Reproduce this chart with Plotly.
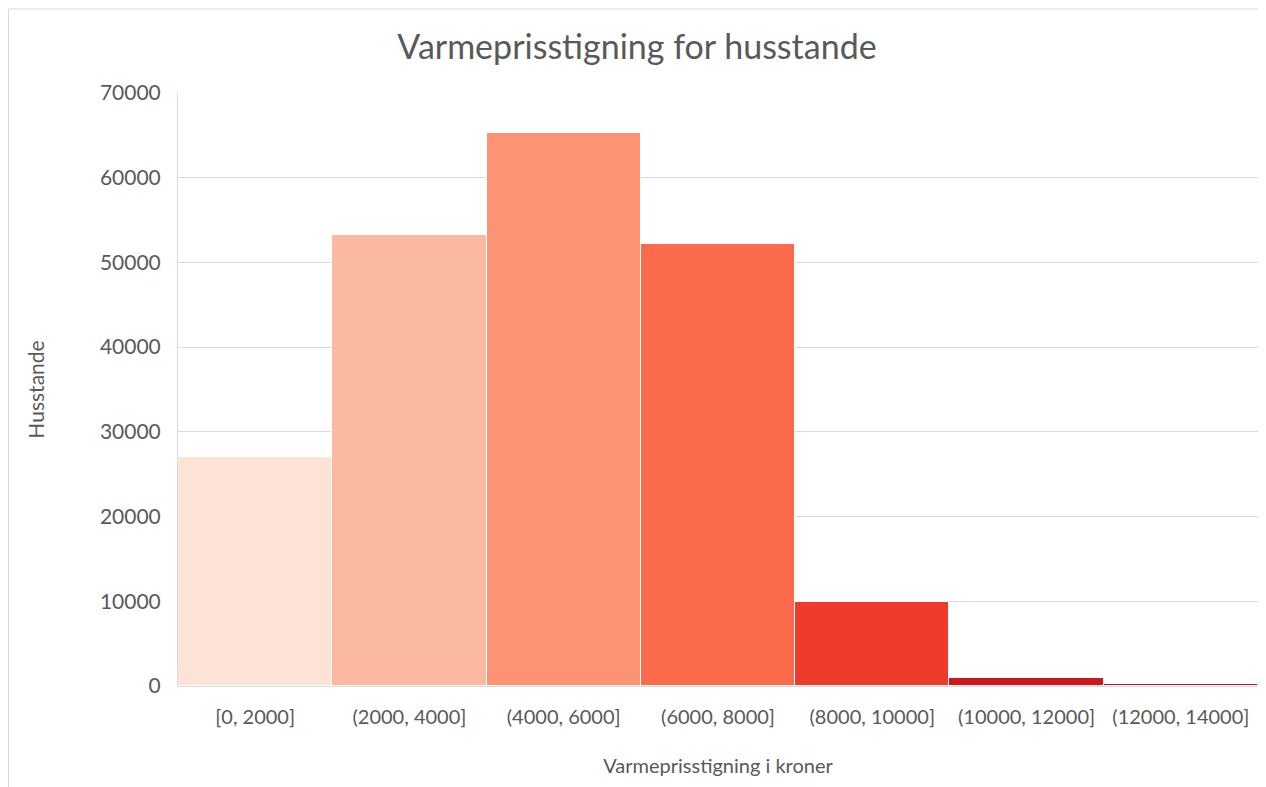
import plotly.graph_objects as go

categories = ["[0, 2000]", "(2000, 4000]", "(4000, 6000]", "(6000, 8000]",
              "(8000, 10000]", "(10000, 12000]", "(12000, 14000]"]
households = [27000, 53200, 65300, 52200, 9900, 1000, 270]
bar_colors = ["#FDE2D6", "#FBBAA0", "#FC9372", "#FB6A4A", "#EF3B2C", "#CB181D", "#B0131A"]

font_family = "Lato, 'Open Sans', sans-serif"
grey = "#595959"

W, H = 1258, 779  # page body has 8px margin
L, T, B, R = 170, 85, 101, 8

fig = go.Figure(go.Bar(
    x=categories, y=households,
    marker=dict(color=bar_colors, line=dict(color="white", width=1)),
    width=1.0,
))

fig.update_layout(
    width=W, height=H,
    paper_bgcolor="white", plot_bgcolor="white",
    margin=dict(l=L, r=R, t=T, b=B),
    bargap=0,
    showlegend=False,
    title=dict(text="Varmeprisstigning for husstande", x=0.5, xanchor="center",
               y=1 - 39 / H, yanchor="middle",
               font=dict(family=font_family, size=34, color=grey)),
    font=dict(family=font_family, color=grey, size=20),
)
fig.update_yaxes(
    range=[0, 70000], dtick=10000, tickformat="d",
    showgrid=True, gridcolor="#D9D9D9", gridwidth=1,
    showline=True, linecolor="#D9D9D9", linewidth=1,
    zeroline=False,
    ticks="outside", ticklen=12, tickcolor="rgba(0,0,0,0)",
    tickfont=dict(size=21, color=grey),
    title=dict(text="Husstande", font=dict(size=21, color=grey), standoff=49),
)
fig.update_xaxes(
    showline=True, linecolor="#D9D9D9", linewidth=1,
    ticks="outside", ticklen=13, tickcolor="rgba(0,0,0,0)",
    tickfont=dict(size=20, color=grey),
    tickangle=0,
    title=dict(text="Varmeprisstigning i kroner", font=dict(size=20, color=grey), standoff=31),
)
pw, ph = W - L - R, H - T - B
fig.add_shape(type="rect", xref="paper", yref="paper",
              x0=-(L - 0.5) / pw, x1=1 + (R + 5) / pw,
              y0=-(B + 10) / ph, y1=1 + (T - 1) / ph,
              line=dict(color="#D9D9D9", width=1), fillcolor="rgba(0,0,0,0)", layer="below")

fig.write_html("out.html")
